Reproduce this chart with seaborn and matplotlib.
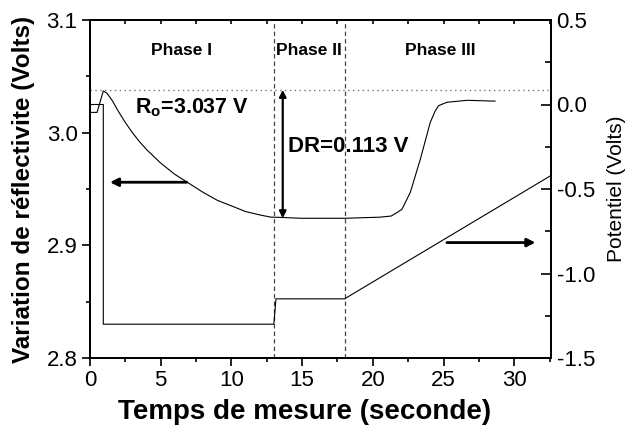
import numpy as np
import pandas as pd
import matplotlib
matplotlib.use("Agg")
import matplotlib.pyplot as plt
import seaborn as sns

# --- dados ---
temps_refl = [0.0, 0.5, 0.94, 1.2, 1.6, 2.0, 2.5, 3.0, 3.5, 4.0, 5.0, 6.0, 7.0,
              8.0, 9.0, 10.0, 11.0, 12.0, 12.8, 13.0, 15.0, 18.0, 20.5, 21.3,
              21.7, 22.06, 22.65, 23.35, 24.06, 24.4, 24.65, 25.25, 26.66, 28.66]
reflectivite = [3.018, 3.018, 3.037, 3.035, 3.028, 3.019, 3.009, 3.000, 2.992,
                2.985, 2.973, 2.963, 2.955, 2.947, 2.940, 2.935, 2.930, 2.927,
                2.925, 2.925, 2.924, 2.924, 2.925, 2.926, 2.929, 2.932, 2.947,
                2.976, 3.009, 3.019, 3.024, 3.027, 3.0287, 3.028]

temps_pot = [0.0, 0.94, 0.94, 13.0, 13.15, 18.0, 32.6]
potentiel = [0.0, 0.0, -1.3, -1.3, -1.15, -1.15, -0.42]

R0 = 3.037
DR = 0.113
t_phases = [13.0, 18.0]
phases = ["Phase I", "Phase II", "Phase III"]
t_labels_phase = [6.5, 15.5, 24.8]

df_r = pd.DataFrame({"t": temps_refl, "r": reflectivite})
df_p = pd.DataFrame({"t": temps_pot, "v": potentiel})

sns.set_style("ticks")
plt.rcParams["font.family"] = ["Liberation Sans", "DejaVu Sans"]
plt.rcParams["mathtext.fontset"] = "custom"
plt.rcParams["mathtext.rm"] = "Liberation Sans"
plt.rcParams["mathtext.bf"] = "Liberation Sans:bold"
for k in ["text.color", "axes.labelcolor", "xtick.color", "ytick.color",
          "axes.edgecolor"]:
    plt.rcParams[k] = "black"

fig = plt.figure(figsize=(6.32, 4.33), dpi=100)
ax = fig.add_axes([90 / 632, 1 - 358 / 433, 461 / 632, 338 / 433])
ax2 = ax.twinx()

sns.lineplot(data=df_r, x="t", y="r", ax=ax, color="black", lw=0.8,
             estimator=None, sort=False)
sns.lineplot(data=df_p, x="t", y="v", ax=ax2, color="black", lw=0.8,
             estimator=None, sort=False)

ax.set_xlim(0, 32.6)
ax.set_ylim(2.8, 3.1)
ax2.set_ylim(-1.5, 0.5)

# linhas auxiliares
ax.axhline(3.038, color="#777777", ls=(0, (1, 2.5)), lw=1.0)
for tp in t_phases:
    ax.axvline(tp, color="#444444", ls=(0, (3.5, 2.5)), lw=0.9)

# setas
ax.annotate("", xy=(1.41, 2.956), xytext=(6.84, 2.956),
            arrowprops=dict(arrowstyle="-|>", color="black", lw=2,
                            mutation_scale=12, shrinkA=0, shrinkB=0))
ax2.annotate("", xy=(31.5, -0.817), xytext=(25.24, -0.817),
             arrowprops=dict(arrowstyle="-|>", color="black", lw=2,
                             mutation_scale=12, shrinkA=0, shrinkB=0))
ax.annotate("", xy=(13.63, R0 + 0.001), xytext=(13.63, R0 - DR),
            arrowprops=dict(arrowstyle="<|-|>", color="black", lw=1.6,
                            mutation_scale=10, shrinkA=0, shrinkB=0))

# textos
for nom, tx in zip(phases, t_labels_phase):
    ax.text(tx, 3.073, nom, ha="center", va="center", fontsize=12.5,
            fontweight="bold")
ax.text(3.18, 3.017, r"R$_\mathbf{o}$=3.037 V", ha="left", va="baseline",
        fontsize=15.5, fontweight="bold")
ax.text(14.0, 2.988, "DR=0.113 V", ha="left", va="center", fontsize=16,
        fontweight="bold")

# eixos
ax.set_xticks(np.arange(0, 31, 5))
ax.set_xticks(np.arange(2.5, 32.6, 5), minor=True)
ax.set_yticks([2.8, 2.9, 3.0, 3.1])
ax.set_yticks([2.85, 2.95, 3.05], minor=True)
ax2.set_yticks([-1.5, -1.0, -0.5, 0.0, 0.5])
ax2.set_yticks([-1.25, -0.75, -0.25, 0.25], minor=True)
ax.set_yticklabels(["2.8", "2.9", "3.0", "3.1"])
ax2.set_yticklabels(["-1.5", "-1.0", "-0.5", "0.0", "0.5"])

ax.tick_params(axis="both", which="major", direction="out", length=6,
               width=1.2, labelsize=16, pad=3)
ax.tick_params(axis="both", which="minor", direction="out", length=3,
               width=1.2)
ax2.tick_params(axis="y", which="major", direction="in", length=7,
                width=1.2, labelsize=16, pad=4)
ax2.tick_params(axis="y", which="minor", direction="in", length=4,
                width=1.2)

top = ax.secondary_xaxis("top")
top.set_xticks(np.arange(0, 32.6, 2.5))
top.tick_params(direction="in", length=3, width=1.2, labeltop=False)
top.spines["top"].set_linewidth(1.3)

for a in (ax, ax2):
    for s in a.spines.values():
        s.set_linewidth(1.3)
        s.set_visible(True)

ax.set_xlabel("Temps de mesure (seconde)", fontsize=20, fontweight="bold")
ax.xaxis.set_label_coords((305 - 90) / 461, -0.122)
ax.set_ylabel("Variation de réflectivite (Volts)", fontsize=17.5,
              fontweight="bold", labelpad=8)
ax2.set_ylabel("Potentiel (Volts)", fontsize=15, labelpad=9)

fig.savefig("out.png", dpi=100)
